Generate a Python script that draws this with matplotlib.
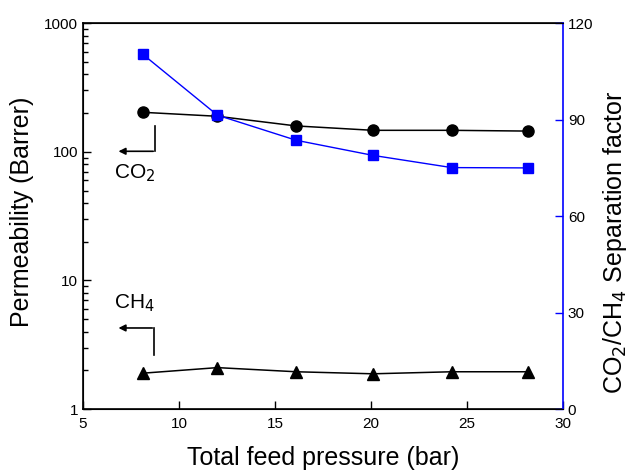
import numpy as np
import matplotlib
matplotlib.use("Agg")
import matplotlib.pyplot as plt

plt.rcParams['font.family'] = ['Liberation Sans', 'DejaVu Sans']

# Data
pressure = [8.1, 12.0, 16.1, 20.1, 24.2, 28.2]
perm_co2 = [203, 189, 159, 147, 147, 145]
perm_ch4 = [1.90, 2.10, 1.95, 1.88, 1.95, 1.95]
sep_factor = [110.4, 91.4, 83.6, 78.9, 75.1, 75.0]

x_ticks = [5, 10, 15, 20, 25, 30]
y2_ticks = [0, 30, 60, 90, 120]

fig = plt.figure(figsize=(6.34, 4.74), dpi=100)
ax = fig.add_axes([0.131, 0.137, 0.757, 0.814])
ax2 = ax.twinx()

ax.plot(pressure, perm_co2, color='black', lw=1.1, marker='o', ms=8, zorder=3)
ax.plot(pressure, perm_ch4, color='black', lw=1.1, marker='^', ms=9, zorder=3)
ax2.plot(pressure, sep_factor, color='blue', lw=1.0, marker='s', ms=7.5,
         markerfacecolor='blue', markeredgecolor='blue', zorder=3)

ax.set_yscale('log')
ax.set_ylim(1, 1000)
ax.set_xlim(5, 30)
ax.set_xticks(x_ticks)
ax.set_yticks([1, 10, 100, 1000])
ax.set_yticklabels(['1', '10', '100', '1000'])
ax2.set_ylim(0, 120)
ax2.set_yticks(y2_ticks)

ax.tick_params(axis='both', which='both', direction='in', labelsize=11, width=1)
ax.tick_params(axis='y', which='major', length=6)
ax.tick_params(axis='y', which='minor', length=3.5)
ax.tick_params(axis='x', which='major', length=6, pad=6)
ax2.tick_params(axis='y', direction='in', length=6, color='blue', labelsize=11, width=1)

for s in ['left', 'bottom', 'top']:
    ax.spines[s].set_linewidth(1.2)
ax2.spines['right'].set_color('blue')
ax2.spines['right'].set_linewidth(1.2)
ax.spines['right'].set_visible(False)

# axis titles placed by their centres
fig.text(0.509, 0.034, 'Total feed pressure (bar)', fontsize=18, ha='center', va='center')
fig.text(0.035, 0.553, 'Permeability (Barrer)', fontsize=18, ha='center', va='center',
         rotation=90)
fig.text(0.970, 0.49, 'CO$_2$/CH$_4$ Separation factor', fontsize=18, ha='center',
         va='center', rotation=90)

# CO2 arrow annotation
ax.plot([8.75, 8.75], [160, 101], color='black', lw=1.2)
ax.annotate('', xy=(6.7, 101), xytext=(8.8, 101),
            arrowprops=dict(arrowstyle='-|>', color='black', lw=1.2, mutation_scale=10))
ax.text(6.6, 68, 'CO$_2$', fontsize=15, va='center', ha='left')

# CH4 arrow annotation
ax.plot([8.7, 8.7], [2.63, 4.27], color='black', lw=1.2)
ax.annotate('', xy=(6.7, 4.27), xytext=(8.75, 4.27),
            arrowprops=dict(arrowstyle='-|>', color='black', lw=1.2, mutation_scale=10))
ax.text(6.6, 6.7, 'CH$_4$', fontsize=15, va='center', ha='left')

fig.savefig('out.png', dpi=100)
